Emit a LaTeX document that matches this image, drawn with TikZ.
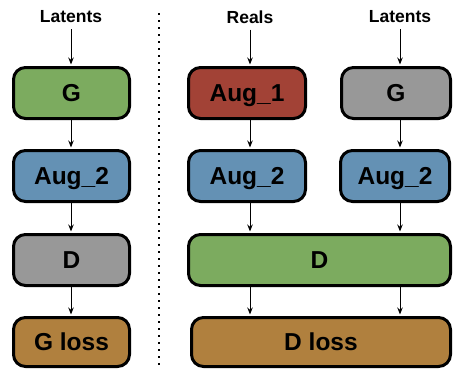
\documentclass[tikz,border=0pt]{standalone}
\usepackage{fontspec}
\setmainfont{Liberation Sans}
\usetikzlibrary{arrows.meta}
\definecolor{cgreen}{RGB}{124,171,95}
\definecolor{cblue}{RGB}{100,145,180}
\definecolor{cgray}{RGB}{152,152,152}
\definecolor{cred}{RGB}{162,66,54}
\definecolor{cbrown}{RGB}{176,128,62}
\begin{document}
\begin{tikzpicture}[x=1pt,y=-1pt,
  box/.style={draw=black, line width=3pt, rounded corners=12pt, minimum height=51pt, inner sep=0pt,
    text height=17.5pt, text depth=0pt,
    font=\fontsize{24.5}{24.5}\selectfont\bfseries},
  lab/.style={font=\fontsize{17.5}{17.5}\selectfont\bfseries, inner sep=0pt},
  arr/.style={-{Stealth[length=7pt,width=5.5pt]}, line width=1pt, shorten >=1.5pt}]
\useasboundingbox (0,0) rectangle (453,368);
% labels
\node[lab] (lat1) at (71,17) {Latents};
\node[lab] (reals) at (250,17) {Reals};
\node[lab] (lat2) at (400,17) {Latents};
% left column
\node[box, fill=cgreen, minimum width=116pt] (G1) at (71.5,93) {G};
\node[box, fill=cblue, minimum width=116pt] (A1) at (71.5,176) {Aug\_2};
\node[box, fill=cgray, minimum width=116pt] (D1) at (71.5,260) {D};
\node[box, fill=cbrown, minimum width=116pt, minimum height=49pt] (L1) at (71.5,342) {G loss};
% right column
\node[box, fill=cred, minimum width=117pt] (R1) at (247,93) {Aug\_1};
\node[box, fill=cgray, minimum width=109pt] (G2) at (396,93) {G};
\node[box, fill=cblue, minimum width=117pt] (A2) at (247,176) {Aug\_2};
\node[box, fill=cblue, minimum width=109pt] (A3) at (395,176) {Aug\_2};
\node[box, fill=cgreen, minimum width=262pt] (D2) at (319.5,260) {D};
\node[box, fill=cbrown, minimum width=259pt, minimum height=49pt] (L2) at (321,342) {D loss};
% separator
\draw[line width=2pt, dash pattern=on 2pt off 5pt] (159,13) -- (159,368);
% left arrows
\draw[arr] (lat1.south) ++(0,6) -- (lat1.south |- G1.north);
\draw[arr] (G1.south -| lat1) -- (A1.north -| lat1);
\draw[arr] (A1.south -| lat1) -- (D1.north -| lat1);
\draw[arr] (D1.south -| lat1) -- (L1.north -| lat1);
% right arrows
\draw[arr] (reals.south) ++(0,6) -- (reals.south |- R1.north);
\draw[arr] (lat2.south) ++(0,6) -- (lat2.south |- G2.north);
\draw[arr] (R1.south -| reals) -- (A2.north -| reals);
\draw[arr] (G2.south -| lat2) -- (A3.north -| lat2);
\draw[arr] (A2.south -| reals) -- (D2.north -| reals);
\draw[arr] (A3.south -| lat2) -- (D2.north -| lat2);
\draw[arr] (D2.south -| reals) -- (L2.north -| reals);
\draw[arr] (D2.south -| lat2) -- (L2.north -| lat2);
\end{tikzpicture}
\end{document}
